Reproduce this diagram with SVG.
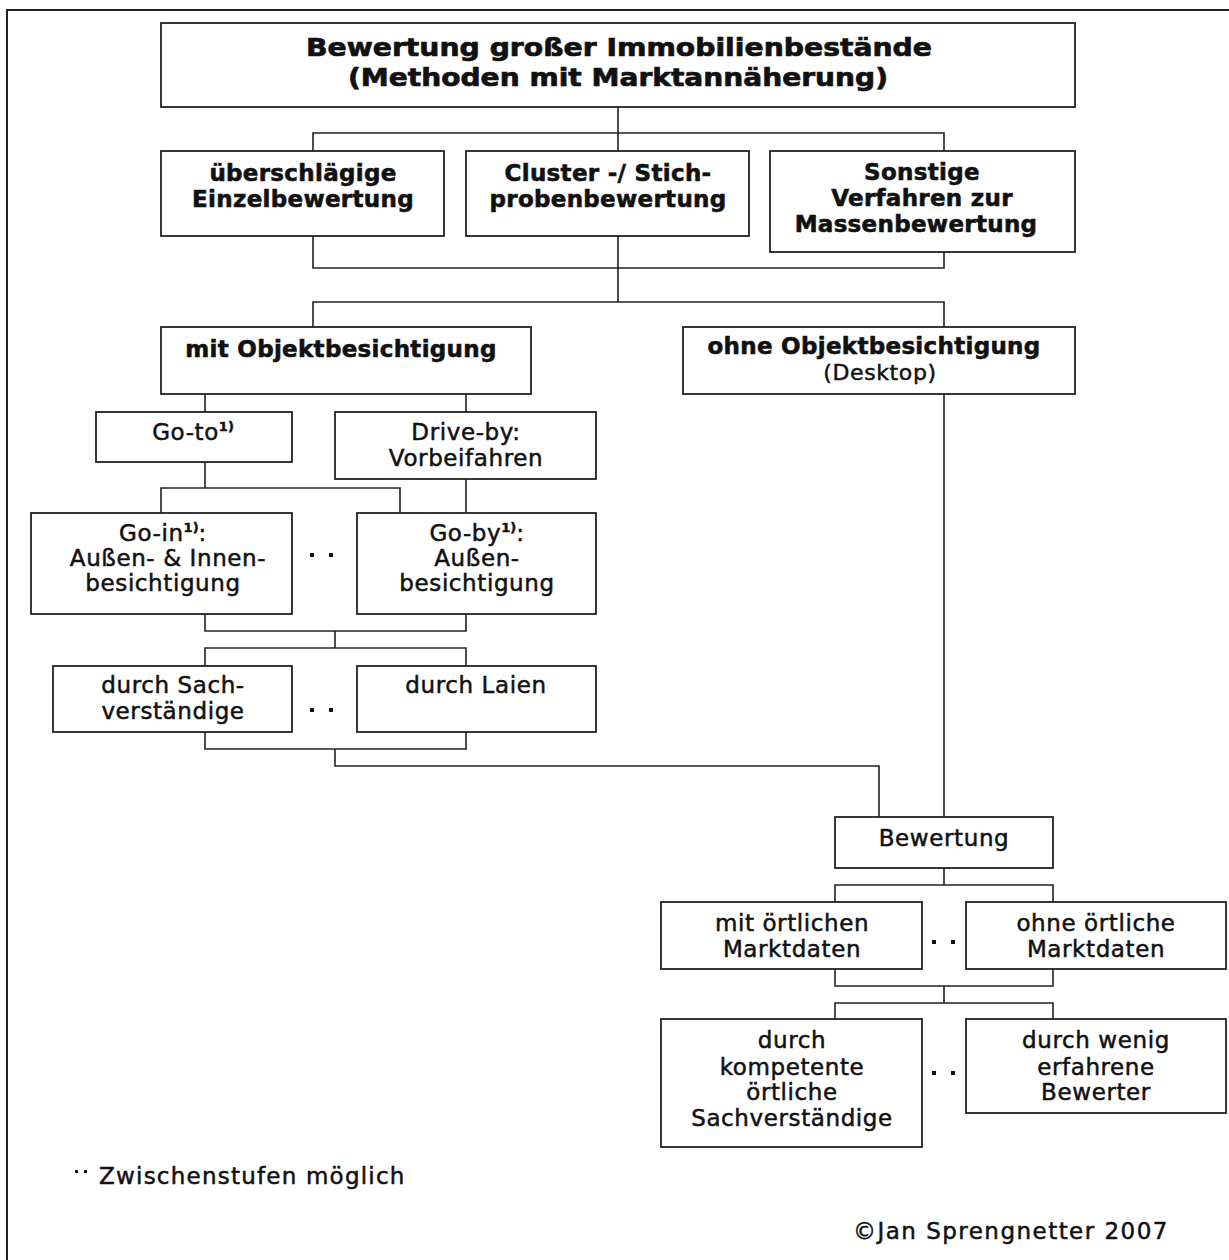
<svg xmlns="http://www.w3.org/2000/svg" width="1229" height="1260" viewBox="0 0 1229 1260">
<style>
.box{fill:#fff;stroke:#222;stroke-width:1.8}
.ln{fill:none;stroke:#222;stroke-width:1.6}
.b{font-family:"DejaVu Sans",sans-serif;font-weight:bold;font-size:23px;letter-spacing:0.3px;text-anchor:middle;fill:#111;stroke:#111;stroke-width:0.6}
.t{font-family:"DejaVu Sans",sans-serif;font-weight:bold;font-size:25px;text-anchor:middle;fill:#111;stroke:#111;stroke-width:0.7}
.r{font-family:"DejaVu Sans",sans-serif;font-size:23px;letter-spacing:0.6px;text-anchor:middle;fill:#111;stroke:#111;stroke-width:0.5}
.sup{font-size:13px;font-weight:bold;letter-spacing:0}
.dot{fill:#111}
</style>
<rect width="1229" height="1260" fill="#fff"/>
<path d="M7,1260 V10 H1229" fill="none" stroke="#222" stroke-width="2"/>

<g id="connectors">
<path class="ln" d="M618,107 V151 M313,151 V133 H944 V151"/>
<path class="ln" d="M313,236 V268 H944 V252 M618,236 V302 M313,327 V302 H944 V394"/>
<path class="ln" d="M205,394 V412 M466,394 V412"/>
<path class="ln" d="M205,462 V488 M161,513 V488 H400 V513 M466,479 V513"/>
<path class="ln" d="M205,614 V631 H466 V614 M335,631 V648 M205,666 V648 H466 V666"/>
<path class="ln" d="M205,732 V749 H466 V732 M335,749 V766 H879 V817 M944,394 V817"/>
<path class="ln" d="M944,868 V885 M835,902 V885 H1053 V902"/>
<path class="ln" d="M835,969 V986 H1053 V969 M944,986 V1003 M835,1019 V1003 H1053 V1019"/>
</g>

<g id="n-title">
<rect class="box" x="161" y="23" width="914" height="84"/>
<text class="t" x="619" y="56" textLength="626" lengthAdjust="spacingAndGlyphs">Bewertung großer Immobilienbestände</text>
<text class="t" x="618" y="86" textLength="540" lengthAdjust="spacingAndGlyphs">(Methoden mit Marktannäherung)</text>
</g>

<g id="n-einzel">
<rect class="box" x="161" y="151" width="283" height="85"/>
<text class="b" x="303" y="181">überschlägige</text>
<text class="b" x="303" y="207">Einzelbewertung</text>
</g>

<g id="n-cluster">
<rect class="box" x="466" y="151" width="283" height="85"/>
<text class="b" x="608" y="181">Cluster -/ Stich-</text>
<text class="b" x="608" y="207">probenbewertung</text>
</g>

<g id="n-sonstige">
<rect class="box" x="770" y="151" width="305" height="101"/>
<text class="b" x="922" y="180">Sonstige</text>
<text class="b" x="922" y="206">Verfahren zur</text>
<text class="b" x="916" y="232">Massenbewertung</text>
</g>

<g id="n-mit">
<rect class="box" x="161" y="327" width="370" height="67"/>
<text class="b" x="341" y="357">mit Objektbesichtigung</text>
</g>

<g id="n-ohne">
<rect class="box" x="683" y="327" width="392" height="67"/>
<text class="b" x="874" y="354">ohne Objektbesichtigung</text>
<text class="r" x="880" y="380" style="font-size:22px">(Desktop)</text>
</g>

<g id="n-goto">
<rect class="box" x="96" y="412" width="196" height="50"/>
<text class="r" x="193" y="440">Go-to<tspan class="sup" dy="-9">1)</tspan></text>
</g>

<g id="n-driveby">
<rect class="box" x="335" y="412" width="261" height="67"/>
<text class="r" x="466" y="440">Drive-by:</text>
<text class="r" x="466" y="466">Vorbeifahren</text>
</g>

<g id="n-goin">
<rect class="box" x="31" y="513" width="261" height="101"/>
<text class="r" x="163" y="541">Go-in<tspan class="sup" dy="-9">1)</tspan><tspan dy="9">:</tspan></text>
<text class="r" x="168" y="566">Außen- &amp; Innen-</text>
<text class="r" x="163" y="591">besichtigung</text>
</g>

<g id="n-goby">
<rect class="box" x="357" y="513" width="239" height="101"/>
<text class="r" x="477" y="541">Go-by<tspan class="sup" dy="-9">1)</tspan><tspan dy="9">:</tspan></text>
<text class="r" x="477" y="566">Außen-</text>
<text class="r" x="477" y="591">besichtigung</text>
</g>

<g id="n-sach">
<rect class="box" x="53" y="666" width="239" height="66"/>
<text class="r" x="173" y="693">durch Sach-</text>
<text class="r" x="173" y="719">verständige</text>
</g>

<g id="n-laien">
<rect class="box" x="357" y="666" width="239" height="66"/>
<text class="r" x="476" y="693">durch Laien</text>
</g>

<g id="n-bewertung">
<rect class="box" x="835" y="817" width="218" height="51"/>
<text class="r" x="944" y="846">Bewertung</text>
</g>

<g id="n-mitort">
<rect class="box" x="661" y="902" width="261" height="67"/>
<text class="r" x="792" y="931">mit örtlichen</text>
<text class="r" x="792" y="957">Marktdaten</text>
</g>

<g id="n-ohneort">
<rect class="box" x="966" y="902" width="260" height="67"/>
<text class="r" x="1096" y="931">ohne örtliche</text>
<text class="r" x="1096" y="957">Marktdaten</text>
</g>

<g id="n-kompetent">
<rect class="box" x="661" y="1019" width="261" height="128"/>
<text class="r" x="792" y="1048">durch</text>
<text class="r" x="792" y="1075">kompetente</text>
<text class="r" x="792" y="1100">örtliche</text>
<text class="r" x="792" y="1126">Sachverständige</text>
</g>

<g id="n-wenig">
<rect class="box" x="966" y="1019" width="260" height="94"/>
<text class="r" x="1096" y="1048">durch wenig</text>
<text class="r" x="1096" y="1075">erfahrene</text>
<text class="r" x="1096" y="1100">Bewerter</text>
</g>

<g id="dots">
<rect class="dot" x="310" y="553" width="4" height="4"/>
<rect class="dot" x="329" y="553" width="4" height="4"/>
<rect class="dot" x="310" y="708" width="4" height="4"/>
<rect class="dot" x="329" y="708" width="4" height="4"/>
<rect class="dot" x="932" y="940" width="4" height="4"/>
<rect class="dot" x="951" y="940" width="4" height="4"/>
<rect class="dot" x="932" y="1071" width="4" height="4"/>
<rect class="dot" x="951" y="1071" width="4" height="4"/>
</g>

<g id="legend">
<rect class="dot" x="75" y="1170" width="3" height="3"/>
<rect class="dot" x="84" y="1170" width="3" height="3"/>
<text class="r" x="99" y="1184" style="text-anchor:start" textLength="306">Zwischenstufen möglich</text>
<text class="r" x="853" y="1239" style="text-anchor:start" textLength="315">©Jan Sprengnetter 2007</text>
</g>
</svg>
